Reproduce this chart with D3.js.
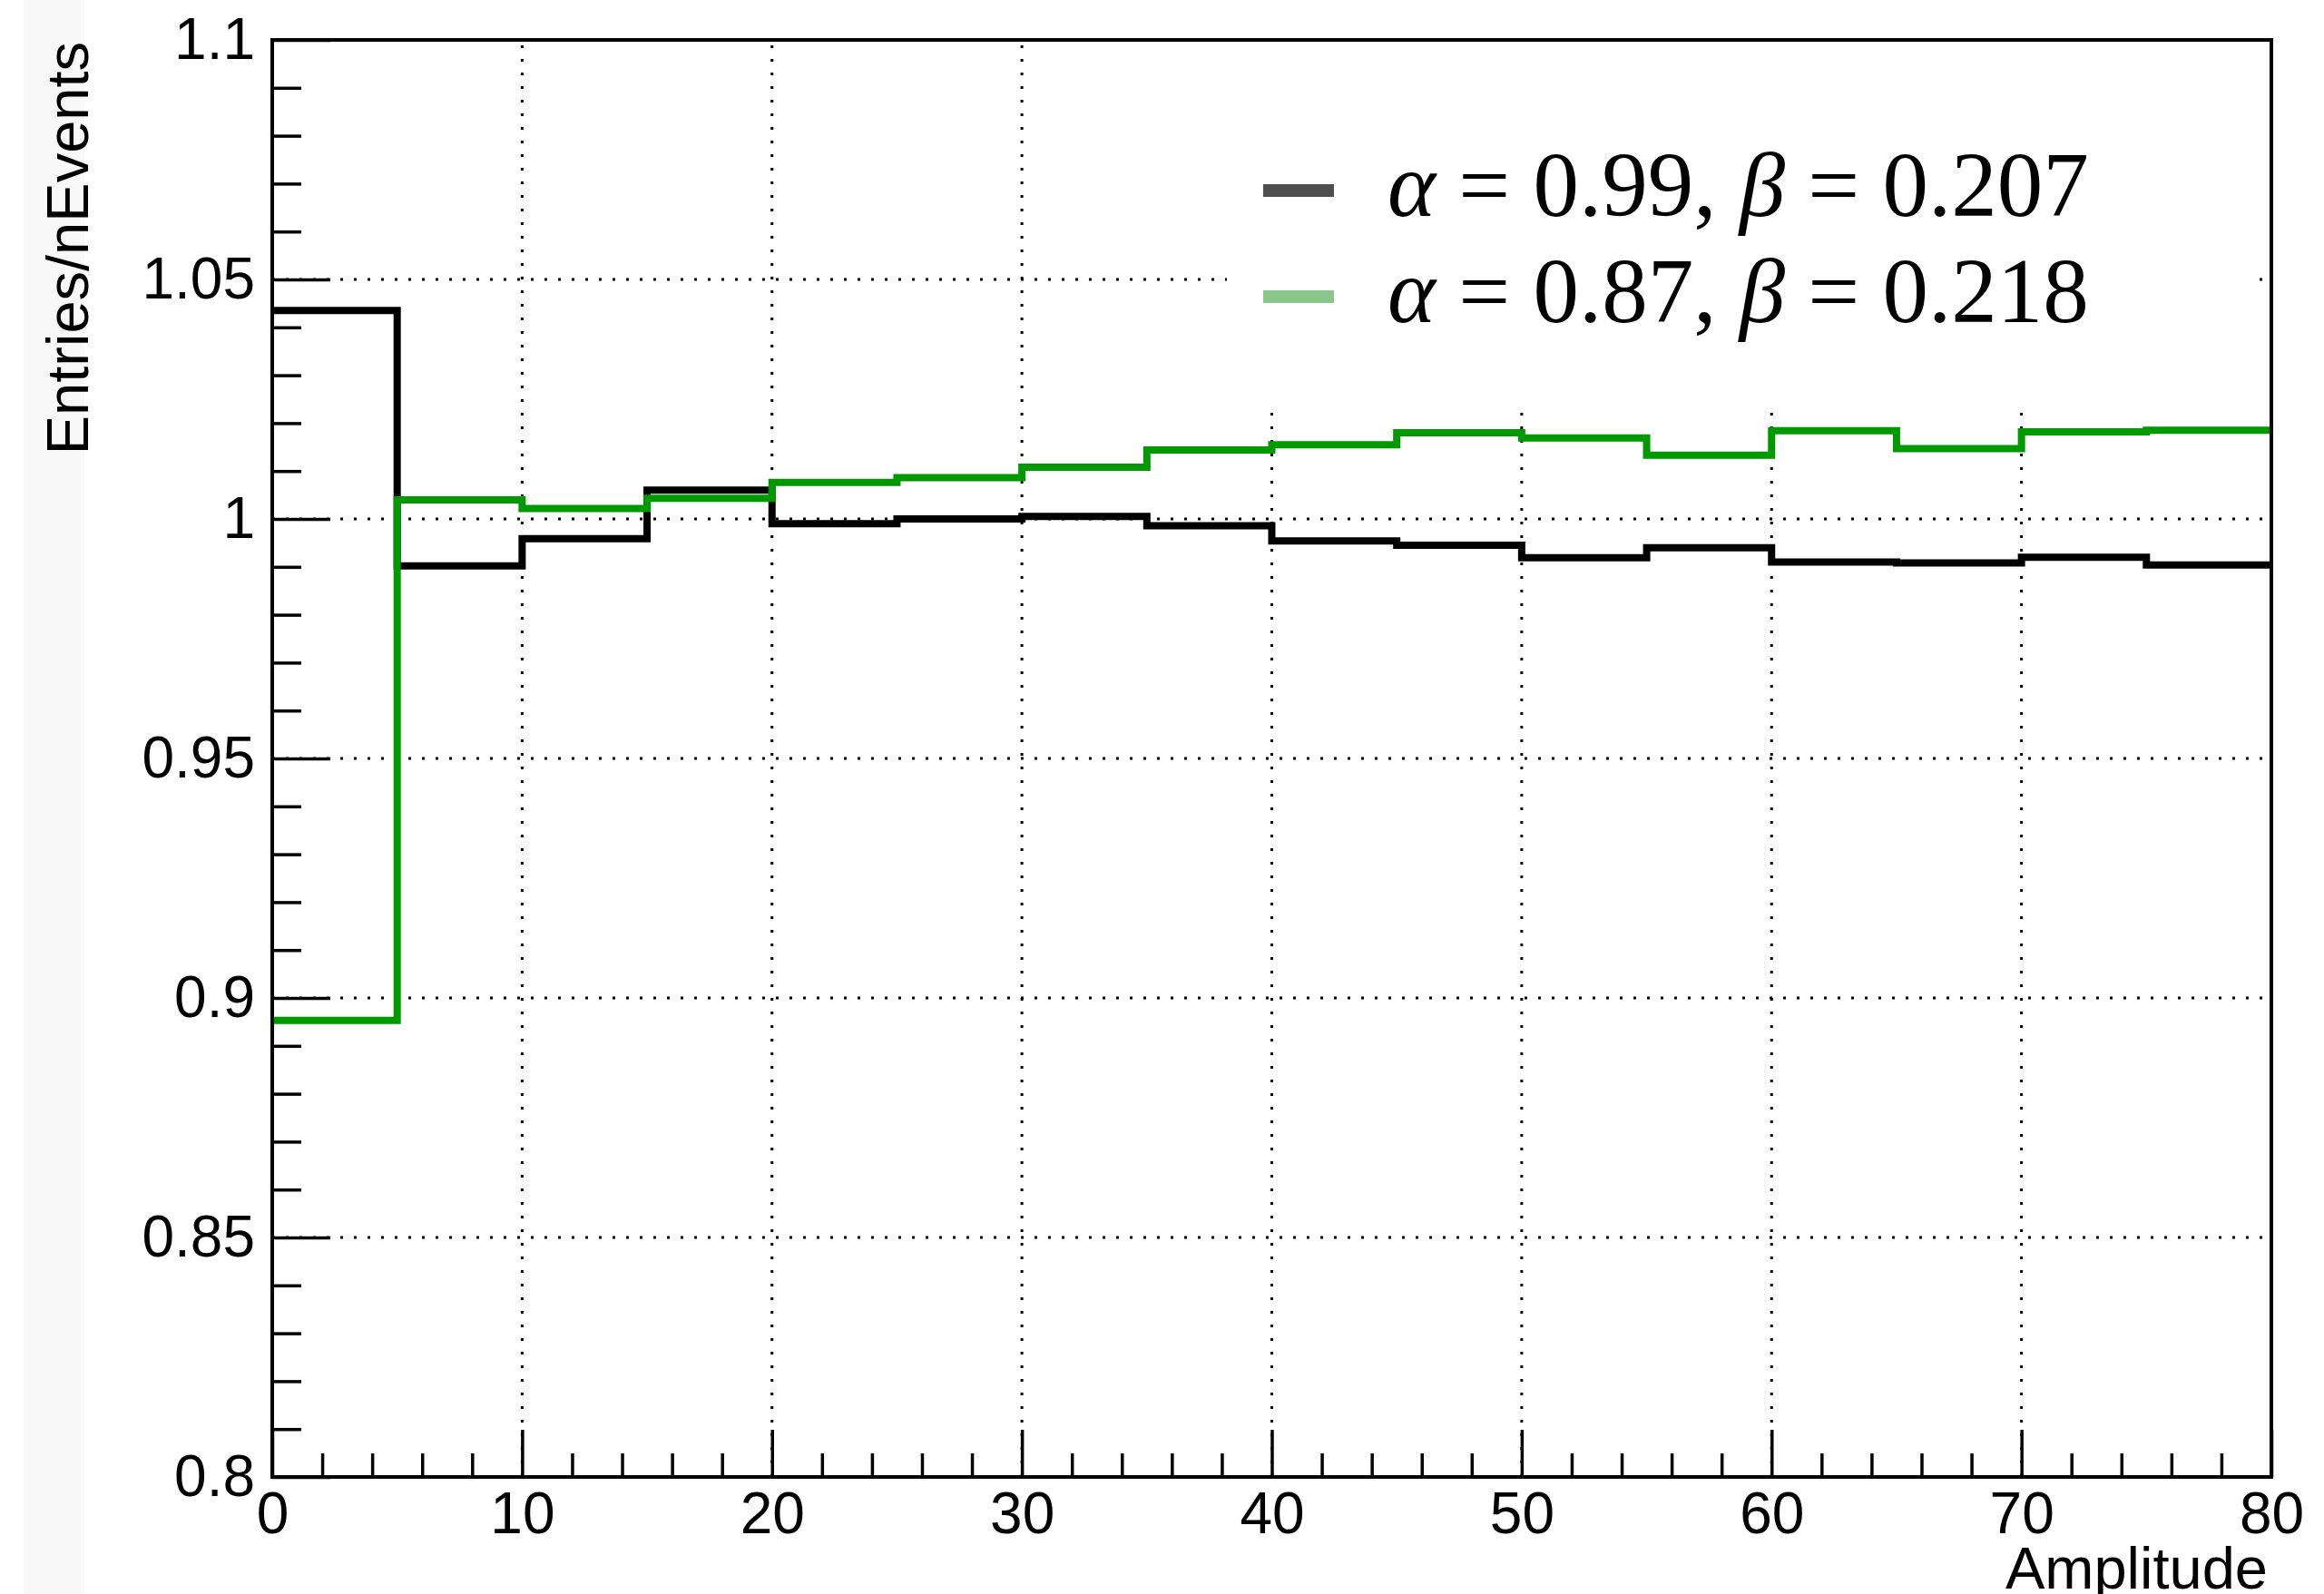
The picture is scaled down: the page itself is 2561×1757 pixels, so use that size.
<!DOCTYPE html>
<html>
<head>
<meta charset="utf-8">
<script src="https://cdn.jsdelivr.net/npm/d3@7"></script>
<style>
  html, body { margin: 0; padding: 0; background: #ffffff; }
  svg { display: block; }
</style>
</head>
<body>
<script>
// ---- data ----
const binEdges = [0, 5, 10, 15, 20, 25, 30, 35, 40, 45, 50, 55, 60, 65, 70, 75, 80];
const seriesBlack = [1.0435, 0.9902, 0.9959, 1.0060, 0.9990, 1.0000, 1.0005, 0.9986,
                     0.9954, 0.9945, 0.9919, 0.9940, 0.9910, 0.9908, 0.9920, 0.9904];
const seriesGreen = [0.8953, 1.0040, 1.0022, 1.0043, 1.0076, 1.0086, 1.0108, 1.0144,
                     1.0155, 1.0180, 1.0169, 1.0133, 1.0184, 1.0147, 1.0182, 1.0185];
const xTickValues = [0, 10, 20, 30, 40, 50, 60, 70, 80];
const xTickLabels = ["0", "10", "20", "30", "40", "50", "60", "70", "80"];
const yTickValues = [0.8, 0.85, 0.9, 0.95, 1.0, 1.05, 1.1];
const yTickLabels = ["0.8", "0.85", "0.9", "0.95", "1", "1.05", "1.1"];
const legendAlpha = ["0.99", "0.87"];
const legendBeta = ["0.207", "0.218"];
const xTitle = "Amplitude";
const yTitle = "Entries/nEvents";

// ---- layout ----
const W = 2561, H = 1757;
const L = 300, R = 2503, T = 44, B = 1628;
const sans = "'Liberation Sans', Arial, Helvetica, sans-serif";
const serif = "'Liberation Serif', 'Times New Roman', Times, serif";

const svg = d3.select("body").append("svg").attr("width", W).attr("height", H);
svg.append("rect").attr("width", W).attr("height", H).attr("fill", "#ffffff");
svg.append("rect").attr("x", 26).attr("y", 0).attr("width", 67).attr("height", H).attr("fill", "#f8f8f8");

const x = d3.scaleLinear().domain([0, 80]).range([L, R]);
const y = d3.scaleLinear().domain([0.8, 1.1]).range([B, T]);

// grid
const grid = svg.append("g").attr("stroke", "#000").attr("stroke-width", 3).attr("stroke-dasharray", "3 12");
grid.selectAll("line.gx").data(xTickValues.slice(1, -1)).join("line")
  .attr("x1", d => x(d)).attr("x2", d => x(d)).attr("y1", B).attr("y2", T);
grid.selectAll("line.gy").data(yTickValues.slice(1, -1)).join("line")
  .attr("y1", d => y(d)).attr("y2", d => y(d)).attr("x1", L).attr("x2", R);

// minor ticks
const xMinor = d3.range(0, 81, 2).filter(v => v % 10 !== 0);
const yMinor = d3.range(80, 111, 1).map(v => v / 100).filter(v => Math.round(v * 100) % 5 !== 0);

const xMinorAxis = d3.axisBottom(x).tickValues(xMinor).tickSizeInner(-26).tickSizeOuter(0).tickFormat("");
const xMajorAxis = d3.axisBottom(x).tickValues(xTickValues).tickSizeInner(-52).tickSizeOuter(0)
  .tickPadding(17).tickFormat((d, i) => xTickLabels[i]);
const yMinorAxis = d3.axisLeft(y).tickValues(yMinor).tickSizeInner(-32).tickSizeOuter(0).tickFormat("");
const yMajorAxis = d3.axisLeft(y).tickValues(yTickValues).tickSizeInner(-64).tickSizeOuter(0)
  .tickPadding(19).tickFormat((d, i) => yTickLabels[i]);

function styleAxis(g) {
  g.select(".domain").remove();
  g.selectAll(".tick line").attr("stroke", "#000").attr("stroke-width", 3.5);
  g.selectAll(".tick text").attr("fill", "#000").attr("font-family", sans).attr("font-size", 64);
}
svg.append("g").attr("transform", `translate(0,${B})`).call(xMinorAxis).call(styleAxis);
svg.append("g").attr("transform", `translate(0,${B})`).call(xMajorAxis).call(styleAxis);
svg.append("g").attr("transform", `translate(${L},0)`).call(yMinorAxis).call(styleAxis);
svg.append("g").attr("transform", `translate(${L},0)`).call(yMajorAxis).call(styleAxis);

// histograms
function stepPoints(vals) {
  const pts = vals.map((v, i) => [binEdges[i], v]);
  pts.push([binEdges[binEdges.length - 1], vals[vals.length - 1]]);
  return pts;
}
const line = d3.line().x(d => x(d[0])).y(d => y(d[1])).curve(d3.curveStepAfter);
svg.append("path").attr("d", line(stepPoints(seriesBlack)))
  .attr("fill", "none").attr("stroke", "#000000").attr("stroke-width", 8);
svg.append("path").attr("d", line(stepPoints(seriesGreen)))
  .attr("fill", "none").attr("stroke", "#009900").attr("stroke-width", 8);

// frame
svg.append("rect").attr("x", L).attr("y", T).attr("width", R - L).attr("height", B - T)
  .attr("fill", "none").attr("stroke", "#000").attr("stroke-width", 4);

// legend
svg.append("rect").attr("x", 1352).attr("y", 47).attr("width", 2489 - 1352).attr("height", 453 - 47)
  .attr("fill", "#ffffff");
const legColors = ["#4f4f4f", "#8ac68a"];
const legBase = [238, 355];
legendAlpha.forEach((a, i) => {
  svg.append("rect").attr("x", 1392).attr("y", legBase[i] - 35).attr("width", 78).attr("height", 14)
    .attr("fill", legColors[i]);
  const t = svg.append("text").attr("x", 1529).attr("y", legBase[i])
    .attr("font-family", serif).attr("font-size", 101).attr("fill", "#000");
  t.append("tspan").attr("font-style", "italic").text("α");
  t.append("tspan").text(" = " + a + ", ");
  t.append("tspan").attr("font-style", "italic").text("β");
  t.append("tspan").text(" = " + legendBeta[i]);
});

// titles
svg.append("text").attr("x", 2499).attr("y", 1751).attr("text-anchor", "end")
  .attr("font-family", sans).attr("font-size", 65).attr("fill", "#000").text(xTitle);
svg.append("text").attr("transform", "translate(97,46) rotate(-90)").attr("text-anchor", "end")
  .attr("font-family", sans).attr("font-size", 65).attr("fill", "#000").text(yTitle);
</script>
</body>
</html>
